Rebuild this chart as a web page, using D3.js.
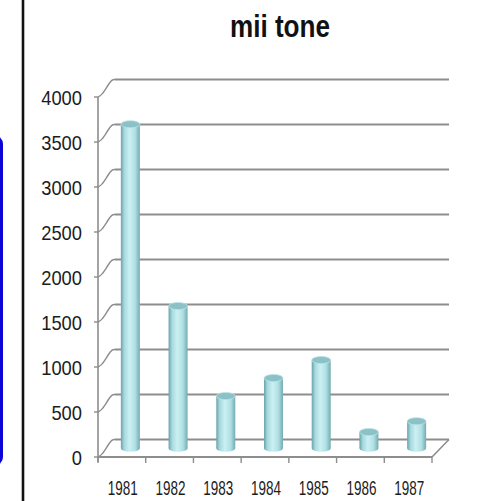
<!DOCTYPE html>
<html>
<head>
<meta charset="utf-8">
<script src="https://cdn.jsdelivr.net/npm/d3@7"></script>
<style>
  html, body { margin: 0; padding: 0; background: #fff; }
  svg { display: block; }
  text { font-family: "Liberation Sans Narrow", "Arial Narrow", "Liberation Sans", Arial, sans-serif; }
</style>
</head>
<body>
<svg id="chart" width="501" height="501"></svg>
<script>
// Chart data
const title = "mii tone";
const years = ["1981", "1982", "1983", "1984", "1985", "1986", "1987"];
const values = [3600, 1580, 580, 780, 980, 180, 300];
const yTicks = [0, 500, 1000, 1500, 2000, 2500, 3000, 3500, 4000];

const svg = d3.select("#chart");
const W = 501, H = 501;

svg.append("rect").attr("width", W).attr("height", H).attr("fill", "#fff");

// Frame pieces at the left edge
svg.append("rect")
  .attr("x", -20).attr("y", 135).attr("width", 23).attr("height", 331)
  .attr("rx", 9).attr("fill", "#0b05d8");
svg.append("line")
  .attr("x1", 23).attr("x2", 23).attr("y1", 0).attr("y2", H)
  .attr("stroke", "#111").attr("stroke-width", 2.6);

// 3D plot geometry: front plane plus a depth offset to the back wall
const depthX = 17, depthY = -17.5;
const x = d3.scaleBand().domain(years).range([98, 432]).padding(0);
const yFront = d3.scaleLinear().domain([0, 4000]).range([457, 97]);
const yBack = v => yFront(v) + depthY;
const yMid = v => yFront(v) + depthY / 2;
const backRight = 432 + depthX;

const gridColor = "#8d8d8d";
const grid = svg.append("g");

// Back-wall gridlines and the side-wall diagonals
yTicks.forEach(t => {
  grid.append("line")
    .attr("x1", 98 + depthX).attr("x2", backRight)
    .attr("y1", yBack(t)).attr("y2", yBack(t))
    .attr("stroke", gridColor).attr("stroke-width", 1.8);
  grid.append("path")
    .attr("d", d3.line().curve(d3.curveBasis)([
      [98, yFront(t)], [102, yFront(t) - 2], [108, yFront(t) - 12], [112, yBack(t)], [98 + depthX, yBack(t)]
    ]))
    .attr("fill", "none").attr("stroke", gridColor).attr("stroke-width", 1.4);
  // left axis tick
  grid.append("line")
    .attr("x1", 94).attr("x2", 98)
    .attr("y1", yFront(t)).attr("y2", yFront(t))
    .attr("stroke", gridColor).attr("stroke-width", 1.4);
});

// Floor outline: front edge and right diagonal
grid.append("line")
  .attr("x1", 98).attr("x2", 432).attr("y1", yFront(0)).attr("y2", yFront(0))
  .attr("stroke", gridColor).attr("stroke-width", 1.8);
grid.append("line")
  .attr("x1", 432).attr("x2", backRight).attr("y1", yFront(0)).attr("y2", yBack(0))
  .attr("stroke", gridColor).attr("stroke-width", 1.6);
// Left vertical axis
grid.append("line")
  .attr("x1", 98).attr("x2", 98).attr("y1", yFront(4000)).attr("y2", yFront(0) + 5)
  .attr("stroke", gridColor).attr("stroke-width", 1.6);

// Category ticks along the floor edge
const catEdges = years.map(d => x(d)).concat([x(years[years.length - 1]) + x.bandwidth()]);
catEdges.forEach(px => {
  grid.append("line")
    .attr("x1", px).attr("x2", px).attr("y1", yFront(0)).attr("y2", yFront(0) + 6)
    .attr("stroke", gridColor).attr("stroke-width", 1.4);
});

// Cylinder shading
const defs = svg.append("defs");
const side = defs.append("linearGradient").attr("id", "cylSide")
  .attr("x1", "0%").attr("x2", "100%").attr("y1", "0%").attr("y2", "0%");
[["0%", "#69a2a9"], ["18%", "#a6d9de"], ["45%", "#cbf0f3"], ["75%", "#b0e0e4"], ["100%", "#75abb1"]]
  .forEach(([o, c]) => side.append("stop").attr("offset", o).attr("stop-color", c));

const barW = 19, ry = 3.6;
const bars = svg.append("g");
years.forEach((yr, i) => {
  const cx = x(yr) + x.bandwidth() / 2 + depthX / 2;
  const yTop = yMid(values[i]);
  const yBot = yMid(0);
  bars.append("ellipse")
    .attr("cx", cx).attr("cy", yBot).attr("rx", barW / 2).attr("ry", ry)
    .attr("fill", "url(#cylSide)");
  bars.append("rect")
    .attr("x", cx - barW / 2).attr("y", yTop).attr("width", barW).attr("height", yBot - yTop)
    .attr("fill", "url(#cylSide)");
  bars.append("ellipse")
    .attr("cx", cx).attr("cy", yTop).attr("rx", barW / 2).attr("ry", ry)
    .attr("fill", "#8cc2c7").attr("stroke", "#b9e3e6").attr("stroke-width", 0.8);
});

// Y-axis labels
const labelColor = "#1c1c1c";
svg.append("g").selectAll("text").data(yTicks).join("text")
  .attr("x", 82).attr("y", d => yFront(d) + 7.5)
  .attr("text-anchor", "end")
  .attr("font-size", 21)
  .attr("fill", labelColor)
  .attr("textLength", d => String(d).length * 10.2)
  .attr("lengthAdjust", "spacingAndGlyphs")
  .text(d => d);

// Category labels
svg.append("g").selectAll("text").data(years).join("text")
  .attr("x", d => x(d) + x.bandwidth() / 2 + 1)
  .attr("y", 495)
  .attr("text-anchor", "middle")
  .attr("font-size", 20)
  .attr("fill", labelColor)
  .attr("textLength", 30)
  .attr("lengthAdjust", "spacingAndGlyphs")
  .text(d => d);

// Title
svg.append("text")
  .attr("x", 280).attr("y", 37)
  .attr("text-anchor", "middle")
  .attr("font-size", 31)
  .attr("font-weight", "bold")
  .attr("fill", "#111")
  .attr("textLength", 100)
  .attr("lengthAdjust", "spacingAndGlyphs")
  .text(title);
</script>
</body>
</html>
